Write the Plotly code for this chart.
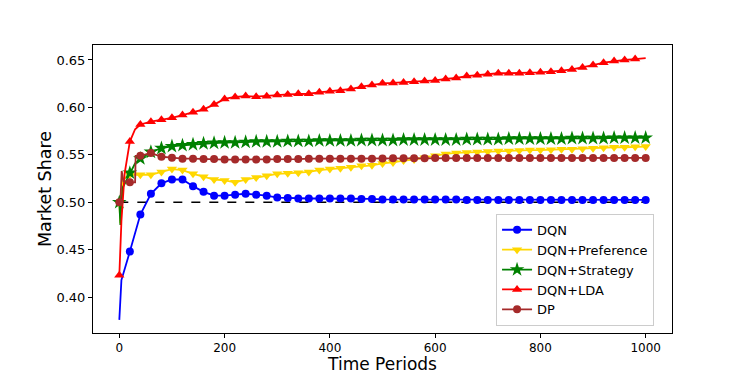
import plotly.graph_objects as go

# time periods where the markers sit (every 20 periods)
periods = list(range(0, 1001, 20))

dqn = [0.376, 0.448, 0.487, 0.509, 0.520, 0.524, 0.524, 0.517, 0.511, 0.507,
       0.507, 0.508, 0.509, 0.508, 0.507, 0.505, 0.5045, 0.504, 0.504, 0.504,
       0.504, 0.504, 0.504, 0.5035, 0.5035, 0.503, 0.503, 0.503, 0.503, 0.503,
       0.503, 0.503, 0.503, 0.5025, 0.5025, 0.5025, 0.5025, 0.5025, 0.5025, 0.5025,
       0.5025, 0.5025, 0.5025, 0.5025, 0.5025, 0.5025, 0.5025, 0.5025, 0.5025, 0.5025,
       0.5025]
pref = [0.500, 0.529, 0.529, 0.529, 0.532, 0.535, 0.534, 0.530, 0.527, 0.524,
        0.523, 0.521, 0.524, 0.526, 0.528, 0.530, 0.5305, 0.531, 0.532, 0.534,
        0.535, 0.536, 0.537, 0.5385, 0.539, 0.541, 0.542, 0.544, 0.545, 0.547,
        0.549, 0.551, 0.552, 0.5525, 0.553, 0.5535, 0.554, 0.554, 0.5545, 0.555,
        0.555, 0.5555, 0.556, 0.556, 0.5565, 0.557, 0.5575, 0.558, 0.558, 0.5585,
        0.5587]
strat = [0.500, 0.531, 0.546, 0.553, 0.557, 0.559, 0.560, 0.561, 0.562, 0.5625,
         0.563, 0.563, 0.5635, 0.564, 0.564, 0.564, 0.5645, 0.5645, 0.5645, 0.565,
         0.565, 0.565, 0.565, 0.5655, 0.5655, 0.5655, 0.5655, 0.566, 0.566, 0.566,
         0.566, 0.566, 0.566, 0.5665, 0.5665, 0.5665, 0.5665, 0.567, 0.567, 0.567,
         0.567, 0.567, 0.567, 0.5675, 0.5675, 0.5675, 0.5675, 0.568, 0.568, 0.568,
         0.568]
lda = [0.423, 0.564, 0.582, 0.585, 0.587, 0.589, 0.592, 0.595, 0.598, 0.603,
       0.609, 0.611, 0.612, 0.6113, 0.6118, 0.613, 0.6137, 0.6144, 0.6144, 0.6159,
       0.617, 0.6177, 0.6194, 0.6219, 0.6236, 0.6254, 0.6258, 0.6264, 0.6271, 0.6279,
       0.6285, 0.630, 0.631, 0.633, 0.634, 0.635, 0.636, 0.636, 0.636, 0.6366,
       0.637, 0.6377, 0.6387, 0.640, 0.642, 0.6447, 0.6472, 0.649, 0.650, 0.651,
       0.652]
dp = [0.500, 0.521, 0.549, 0.552, 0.548, 0.547, 0.546, 0.546, 0.5455, 0.5455,
      0.545, 0.545, 0.545, 0.545, 0.545, 0.5455, 0.5455, 0.5455, 0.546, 0.546,
      0.546, 0.546, 0.546, 0.546, 0.546, 0.5462, 0.5465, 0.5465, 0.5465, 0.5465,
      0.5467, 0.5467, 0.5467, 0.5467, 0.5467, 0.5468, 0.5468, 0.5468, 0.5468, 0.5468,
      0.5468, 0.5468, 0.5468, 0.5468, 0.5468, 0.5468, 0.5468, 0.5468, 0.5468, 0.5468,
      0.5468]

# extra line-only points in the first periods (transients)
dqn_early_t, dqn_early = [2, 4], [0.405, 0.418]
pref_early_t, pref_early = [2, 6], [0.478, 0.524]
strat_early_t, strat_early = [2, 6, 30], [0.476, 0.515, 0.541]
lda_early_t, lda_early = [4, 10, 30], [0.48, 0.53, 0.577]
dp_early_t, dp_early = [2, 4.5, 8, 30, 31], [0.50, 0.533, 0.522, 0.521, 0.549]

baseline_t = [0, 1000]
baseline = [0.5, 0.5]

series = [
    # name, values, early t, early y, colour, symbol, marker size, marker slice
    ("DQN", dqn, dqn_early_t, dqn_early, "blue", "circle", 8, slice(1, None)),
    ("DQN+Preference", pref, pref_early_t, pref_early, "gold", "triangle-down", 9, slice(None)),
    ("DQN+Strategy", strat, strat_early_t, strat_early, "green", "star", 11, slice(None)),
    ("DQN+LDA", lda, lda_early_t, lda_early, "red", "triangle-up", 9, slice(None, -1)),
    ("DP", dp, dp_early_t, dp_early, "brown", "circle", 8, slice(None)),
]

fig = go.Figure()

fig.add_trace(go.Scatter(x=baseline_t, y=baseline, mode="lines",
                         line=dict(color="black", width=1.5, dash="dash"),
                         showlegend=False, hoverinfo="skip"))

for name, vals, et, ev, color, sym, msize, msl in series:
    pts = sorted(list(zip(periods, vals)) + list(zip(et, ev)))
    fig.add_trace(go.Scatter(x=[p[0] for p in pts], y=[p[1] for p in pts],
                             mode="lines", line=dict(color=color, width=1.8),
                             showlegend=False, legendgroup=name))
    fig.add_trace(go.Scatter(x=periods[msl], y=vals[msl], mode="markers",
                             marker=dict(color=color, symbol=sym, size=msize),
                             showlegend=False, legendgroup=name))
    # legend entry
    fig.add_trace(go.Scatter(x=[None], y=[None], mode="lines+markers", name=name,
                             line=dict(color=color, width=1.8),
                             marker=dict(color=color, symbol=sym, size=msize),
                             legendgroup=name))

axis_style = dict(showline=True, mirror=True, linecolor="black", linewidth=1,
                  ticks="outside", ticklen=4, tickcolor="black",
                  showgrid=False, zeroline=False, automargin=False)

# page body adds an 8px offset, so the figure is sized to fit the window
fig.update_layout(
    width=739, height=366,
    margin=dict(l=85, r=75, t=37, b=41),
    plot_bgcolor="white", paper_bgcolor="white",
    font=dict(family="DejaVu Sans", color="black"),
    xaxis=dict(range=[-50, 1050], tickvals=[0, 200, 400, 600, 800, 1000],
               tickfont=dict(size=12, color="black"),
               title=dict(text="Time Periods", font=dict(size=17), standoff=2),
               **axis_style),
    yaxis=dict(range=[0.3622, 0.6658], tickvals=[0.40, 0.45, 0.50, 0.55, 0.60, 0.65],
               tickformat=".2f", tickfont=dict(size=13, color="black"),
               title=dict(text="Market Share", font=dict(size=17.5), standoff=0),
               **axis_style),
    legend=dict(x=0.969, y=0.025, xanchor="right", yanchor="bottom",
                bgcolor="rgba(255,255,255,0.8)", bordercolor="#cccccc", borderwidth=1,
                font=dict(size=13), tracegroupgap=0, itemwidth=30),
)

fig.write_html("out.html")
